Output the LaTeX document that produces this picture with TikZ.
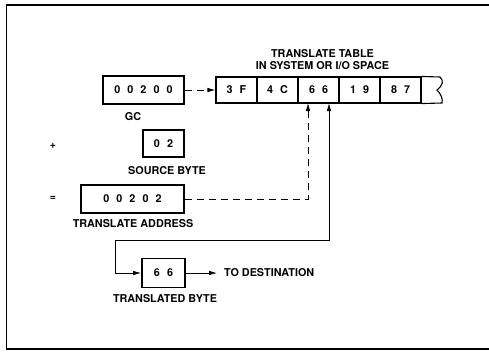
\documentclass[tikz,border=0pt]{standalone}
\usepackage{fontspec}
\setmainfont{TeX Gyre Heros}
\usetikzlibrary{arrows.meta}
\newcommand{\dg}{\hspace{7pt}}
\begin{document}
\begin{tikzpicture}[x=1pt,y=-1pt,
  txt/.style={font=\bfseries\fontsize{10.8}{12}\selectfont,inner sep=0pt},
  sym/.style={font=\bfseries\fontsize{10.5}{11}\selectfont,inner sep=0pt},
  box/.style={draw,line width=1.8pt,inner sep=0pt,font=\bfseries\fontsize{10.8}{12}\selectfont},
  cell/.style={draw,line width=1.1pt,minimum width=41pt,minimum height=26pt,inner sep=0pt,font=\bfseries\fontsize{10.8}{12}\selectfont},
  arr/.style={line width=0.8pt,-{Latex[length=8pt,width=4.5pt]}},
  dsh/.style={dash pattern=on 7pt off 5pt}]
\useasboundingbox (0,0) rectangle (489,351);
% frame
\draw[line width=1.8pt] (490,5) -- (6.5,5) -- (6.5,349) -- (490,349);
% boxes
\node[box,minimum width=81pt,minimum height=28pt] (gc) at (143.5,90) {0\dg 0\dg 2\dg 0\dg 0};
\node[txt] (gcl) at (133,117) {GC};
\node[sym] (plus) at (53,146) {+};
\node[box,minimum width=41pt,minimum height=27pt] (src) at (163.5,143.5) {0\dg 2};
\node[txt] (srcl) at (167,171) {SOURCE BYTE};
\node[sym] (eq) at (53,198) {=};
\node[box,minimum width=103pt,minimum height=28pt] (addr) at (132.5,199) {0\dg 0\dg 2\dg 0\dg 2};
\node[txt] (addrl) at (133,224) {TRANSLATE ADDRESS};
\node[box,minimum width=43pt,minimum height=29pt] (tb) at (163.5,273) {6\dg 6};
\node[txt] (tbl) at (165,299) {TRANSLATED BYTE};
\node[txt,anchor=west] (dest) at (224,273) {TO DESTINATION};
% table
\node[txt] (t1) at (322.5,54) {TRANSLATE TABLE};
\node[txt] (t2) at (322.5,66) {IN SYSTEM OR I/O SPACE};
\node[cell] (c1) at (236.5,90) {3\dg F};
\node[cell] (c2) at (277.5,90) {4\dg C};
\node[cell] (c3) at (318.5,90) {6\dg 6};
\node[cell] (c4) at (359.5,90) {1\dg 9};
\node[cell] (c5) at (400.5,90) {8\dg 7};
\draw[line width=1.1pt] (c5.north east) -- (440,77) .. controls (444,81) and (443,85) .. (437,90)
  .. controls (441,94) and (443,99) .. (442,103) -- (c5.south east);
% connectors
\coordinate (d1) at (308,199);
\coordinate (d2) at (308,103);
\coordinate (s1) at (329,103);
\coordinate (s2) at (329,240);
\coordinate (s3) at (115,240);
\coordinate (s4) at (115,273);
\coordinate (e1) at (217,273);
\draw[arr,dsh] (gc.east) -- (c1.west);
\draw[arr,dsh] (addr.east) -- (d1) -- (d2);
\draw[line width=0.8pt,{Latex[length=8pt,width=4.5pt]}-{Latex[length=8pt,width=4.5pt]}] (s1) -- (s2) -- (s3) -- (s4) -- (tb.west);
\draw[arr] (tb.east) -- (e1);
\end{tikzpicture}
\end{document}
